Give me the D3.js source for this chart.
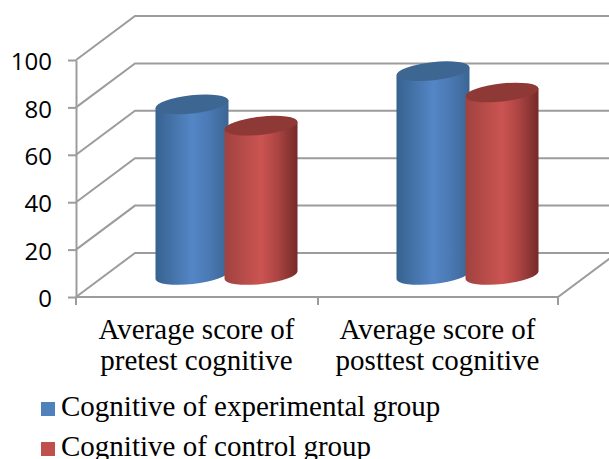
<!DOCTYPE html>
<html>
    <head>
        <meta charset="utf-8">
        <script src="https://d3js.org/d3.v7.min.js"></script>
        <style>
            html, body { margin: 0; padding: 0; background: #fff; overflow: hidden; }
            svg { display: block; }
        </style>
    </head>
    <body>
        <div id="chart"></div>

        <script type="text/javascript">
            const categories = [
                ["Average score of", "pretest cognitive"],
                ["Average score of", "posttest cognitive"]
            ];
            const seriesNames = ["Cognitive of experimental group", "Cognitive of control group"];
            const experimental = [72, 86];
            const control = [63, 77];
            const yTicks = [0, 20, 40, 60, 80, 100];

            const width = 609;
            const height = 459;
            const depth = {x: 59, y: -44};
            const barWidth = 73;
            const grey = "#9c9c9c";

            const svg = d3.select("#chart")
                .append("svg")
                .attr("width", width)
                .attr("height", height);

            const x = d3.scaleBand().domain([0, 1]).range([76, 558]);
            const xSeries = d3.scaleBand().domain([0, 1]).range([0, x.bandwidth()]).paddingInner(0).paddingOuter(0.746);
            const y = d3.scaleLinear().domain([0, 100]).range([297, 60]);

            // colours for each series: edge, centre, far edge, top
            const palette = [
                {left: "#37628f", mid: "#5486c6", right: "#3b6594", top: "#3e6692", key: "#4f81bd"},
                {left: "#a04240", mid: "#cb5451", right: "#752a28", top: "#8f3937", key: "#c0504d"}
            ];

            const defs = svg.append("defs");
            palette.forEach((p, i) => {
                const g = defs.append("linearGradient").attr("id", "cyl" + i);
                g.append("stop").attr("offset", "0%").attr("stop-color", p.left);
                g.append("stop").attr("offset", "50%").attr("stop-color", p.mid);
                g.append("stop").attr("offset", "72%").attr("stop-color", d3.interpolateRgb(p.mid, p.right)(0.35));
                g.append("stop").attr("offset", "100%").attr("stop-color", p.right);
            });

            // walls and floor
            const wall = svg.append("g")
                .attr("fill", "none")
                .attr("stroke", grey)
                .attr("stroke-width", 2);

            yTicks.forEach(t => {
                wall.append("path")
                    .attr("d", d3.line()([
                        [x.range()[0], y(t)],
                        [x.range()[0] + depth.x, y(t) + depth.y],
                        [width, y(t) + depth.y]
                    ]));
            });

            // front floor edge, ticks and right depth edge
            wall.append("path")
                .attr("d", d3.line()([
                    [x.range()[0], y(0)],
                    [x.range()[1], y(0)],
                    [x.range()[1] + depth.x, y(0) + depth.y]
                ]));

            [76, 318, 558].forEach(v => {
                wall.append("line")
                    .attr("x1", v).attr("x2", v)
                    .attr("y1", y(0)).attr("y2", y(0) + 8);
            });

            const yAxis = d3.axisLeft(y)
                .tickValues(yTicks)
                .tickSize(8)
                .tickPadding(16)
                .tickSizeOuter(0);

            const axisG = svg.append("g")
                .attr("transform", "translate(76,0)")
                .call(yAxis);

            axisG.select(".domain").attr("stroke", grey).attr("stroke-width", 2);
            axisG.selectAll(".tick line").attr("stroke", grey).attr("stroke-width", 2);
            axisG.selectAll(".tick text")
                .attr("fill", "#000")
                .attr("y", 2)
                .attr("font-family", "'Open Sans', sans-serif")
                .attr("font-size", 24);

            // cylinders
            const rx = barWidth / 2;
            const ry = 9;
            const tilt = -6.3;
            const lean = 4;

            function cylinder(cx, topY, baseY) {
                return "M" + (cx - rx) + " " + (topY + lean) +
                    "L" + (cx - rx) + " " + (baseY + lean) +
                    "A" + rx + " " + ry + " " + tilt + " 0 0 " + (cx + rx) + " " + (baseY - lean) +
                    "L" + (cx + rx) + " " + (topY - lean) +
                    "Z";
            }

            function topEllipse(cx, topY) {
                return "M" + (cx - rx) + " " + (topY + lean) +
                    "A" + rx + " " + ry + " " + tilt + " 1 1 " + (cx + rx) + " " + (topY - lean) +
                    "A" + rx + " " + ry + " " + tilt + " 1 1 " + (cx - rx) + " " + (topY + lean) + "Z";
            }

            [experimental, control].forEach((values, s) => {
                const bars = svg.append("g");
                values.forEach((v, i) => {
                    const cx = x(i) + xSeries(s) + xSeries.bandwidth() / 2 + depth.x / 2 + 0.5;
                    const topY = y(v) + depth.y / 2;
                    const baseY = y(0) + depth.y / 2;
                    bars.append("path")
                        .attr("d", cylinder(cx, topY, baseY))
                        .attr("fill", "url(#cyl" + s + ")");
                    bars.append("path")
                        .attr("d", topEllipse(cx, topY))
                        .attr("fill", palette[s].top);
                });
            });

            // category labels
            categories.forEach((lines, i) => {
                const label = svg.append("text")
                    .attr("text-anchor", "middle")
                    .attr("font-family", "'Liberation Serif', serif")
                    .attr("font-size", 29)
                    .attr("fill", "#000");
                lines.forEach((line, j) => {
                    label.append("tspan")
                        .attr("x", x(i) + x.bandwidth() / 2)
                        .attr("y", 339 + j * 31)
                        .text(line);
                });
            });

            // legend
            seriesNames.forEach((name, i) => {
                const row = svg.append("g").attr("transform", "translate(0," + (i * 40) + ")");
                row.append("rect")
                    .attr("x", 41).attr("y", 402)
                    .attr("width", 14).attr("height", 14)
                    .attr("fill", palette[i].key);
                row.append("text")
                    .attr("x", 61).attr("y", 416)
                    .attr("font-family", "'Liberation Serif', serif")
                    .attr("font-size", 29)
                    .attr("fill", "#000")
                    .text(name);
            });
        </script>
    </body>
</html>
